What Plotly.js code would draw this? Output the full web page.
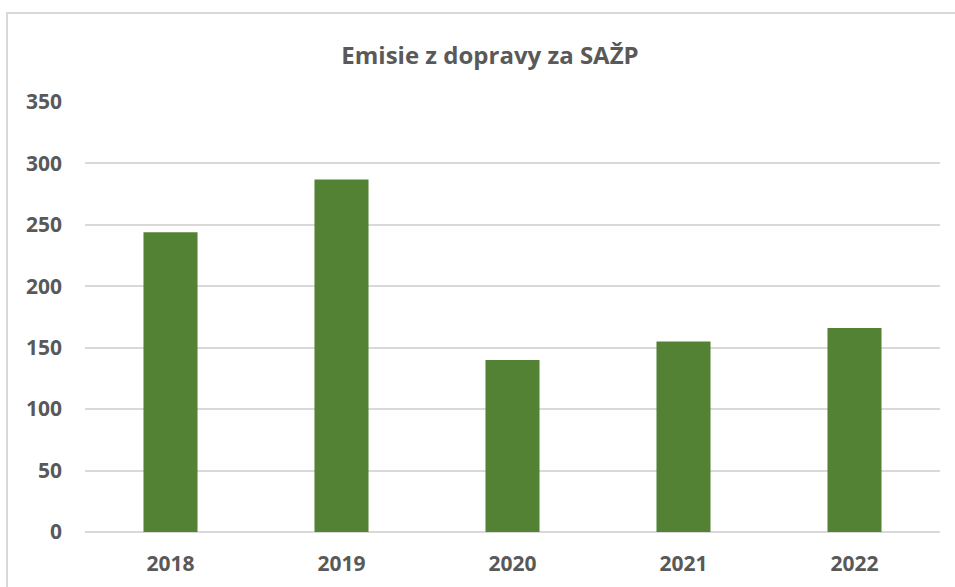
<!DOCTYPE html>
<html>
<head>
<meta charset="utf-8">
<script src="https://cdn.plot.ly/plotly-3.0.1.min.js"></script>
<style>
  html, body { margin: 0; padding: 0; background: #fff; overflow: hidden; }
  #chart { width: 955px; height: 587px; }
  #frame { position: absolute; left: 6px; top: 12px; width: 1000px; height: 1000px;
           border: 2px solid #d9d9d9; pointer-events: none; box-sizing: border-box; }
</style>
</head>
<body>
<div id="chart"></div>
<div id="frame"></div>
<script>
const chartTitle = "Emisie z dopravy za SAŽP";
const years = ["2018", "2019", "2020", "2021", "2022"];
const emissions = [244, 287, 140, 155, 166];
const yTicks = [0, 50, 100, 150, 200, 250, 300, 350];

const fontFam = "'Open Sans', 'Liberation Sans', sans-serif";
const textColor = "#595959";

const trace = {
  type: "bar",
  x: years,
  y: emissions,
  marker: { color: "#548235" },
  hoverinfo: "x+y"
};

const layout = {
  width: 955,
  height: 587,
  margin: { l: 85, r: 15, t: 102, b: 55 },
  paper_bgcolor: "#ffffff",
  plot_bgcolor: "#ffffff",
  bargap: 0.684,
  showlegend: false,
  title: {
    text: "<b>" + chartTitle + "</b>",
    font: { family: fontFam, size: 24, color: textColor },
    x: 490 / 955, xanchor: "center", xref: "container",
    y: 1 - 56 / 587, yanchor: "middle", yref: "container"
  },
  xaxis: {
    type: "category",
    showgrid: false,
    showline: false,
    ticks: "",
    tickfont: { family: fontFam, size: 21, color: textColor, weight: "bold" },
    ticklabelstandoff: 17
  },
  yaxis: {
    range: [0, 350],
    tickvals: yTicks,
    ticktext: yTicks.map(String),
    showgrid: true,
    gridcolor: "#d9d9d9",
    gridwidth: 2,
    zeroline: true,
    zerolinecolor: "#d9d9d9",
    zerolinewidth: 2,
    showline: false,
    ticks: "",
    tickfont: { family: fontFam, size: 21, color: textColor, weight: "bold" },
    ticklabelstandoff: 22
  }
};

Plotly.newPlot("chart", [trace], layout, { displayModeBar: false, staticPlot: true });
</script>
</body>
</html>
